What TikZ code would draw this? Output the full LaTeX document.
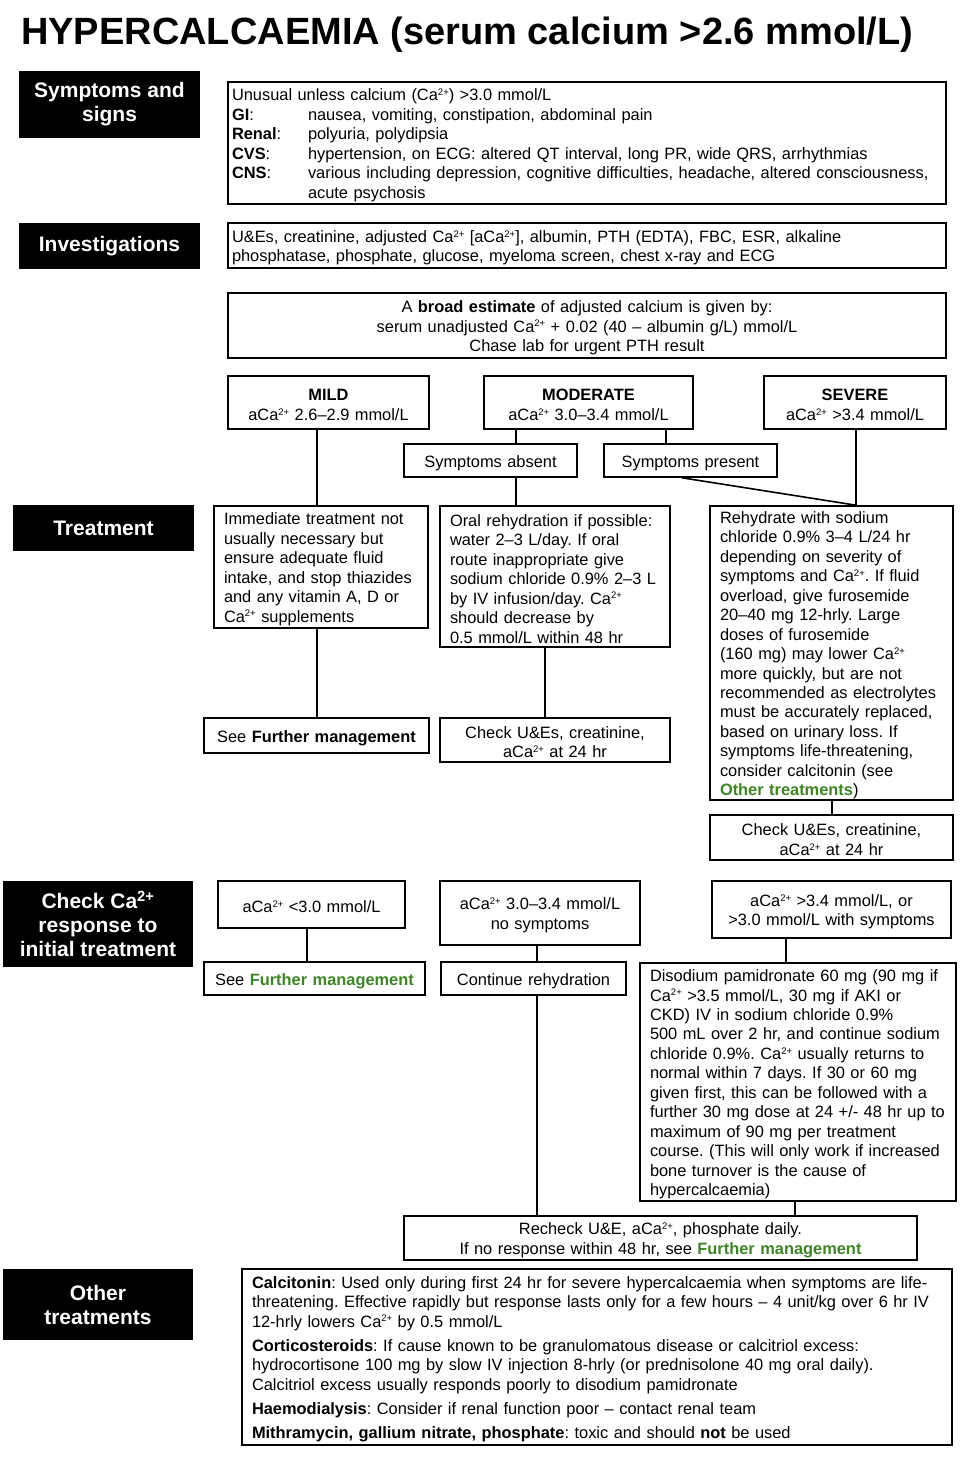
\documentclass[tikz,border=0pt]{standalone}
\usepackage{fontspec}
\setmainfont{Liberation Sans}
\frenchspacing
\definecolor{grn}{RGB}{61,133,37}
\newcommand{\ca}{Ca\raisebox{5.2pt}{\fontsize{9.5}{10}\selectfont 2+}}
\newcommand{\tb}[1]{\makebox[76pt][l]{#1}}
\newcommand{\bodyfont}{\fontsize{16.4}{19.45}\selectfont\frenchspacing}
\newcommand{\labfont}{\bfseries\fontsize{21}{24}\selectfont}
\newcommand{\gr}[1]{\textcolor{grn}{\textbf{#1}}}
\tikzset{
  box/.style={draw, line width=1.6pt, inner ysep=0pt, font=\bodyfont, execute at begin node={\rule{0pt}{16.5pt}}},
  pad/.style={inner xsep=10pt, align=left},
  ctr/.style={inner xsep=4pt, align=center},
  lab/.style={fill=black, text=white, font=\labfont, align=center, inner sep=0pt},
  ln/.style={line width=1.6pt}
}
\begin{document}
\begin{tikzpicture}[x=1pt,y=-1pt]
\useasboundingbox[fill=white] (0,0) rectangle (976,1470);
% title
\node[anchor=base west, inner sep=0pt, font=\bfseries\fontsize{38}{40}\selectfont] (title) at (21,44) {HYPERCALCAEMIA (serum calcium >2.6 mmol/L)};
% labels
\node[lab, minimum width=181pt, minimum height=67pt] (l1) at (109.5,104.5) {Symptoms and\\signs};
\node[lab, minimum width=181pt, minimum height=46pt] (l2) at (109.5,246) {Investigations};
\node[lab, minimum width=181pt, minimum height=46pt] (l3) at (103.5,528) {Treatment};
\node[lab, minimum width=190pt, minimum height=86pt] (l4) at (98,924) {Check Ca\textsuperscript{2+}\\response to\\initial treatment};
\node[lab, minimum width=190pt, minimum height=71pt] (l5) at (98,1304.5) {Other\\treatments};
% top boxes
\node[box, inner xsep=4pt, align=left, text width=710pt, minimum width=718pt, minimum height=122pt] (sym) at (587,143) {Unusual unless calcium (\ca) >3.0 mmol/L\\
\tb{\textbf{GI}:}nausea, vomiting, constipation, abdominal pain\\
\tb{\textbf{Renal}:}polyuria, polydipsia\\
\tb{\textbf{CVS}:}hypertension, on ECG: altered QT interval, long PR, wide QRS, arrhythmias\\
\tb{\textbf{CNS}:}various including depression, cognitive difficulties, headache, altered consciousness,\\
\tb{}acute psychosis};
\node[box, inner xsep=4pt, align=left, text width=710pt, minimum width=718pt, minimum height=45pt] (inv) at (587,245.5) {U\&Es, creatinine, adjusted \ca{} [a\ca], albumin, PTH (EDTA), FBC, ESR, alkaline\\phosphatase, phosphate, glucose, myeloma screen, chest x-ray and ECG};
\node[box, ctr, text width=710pt, minimum width=718pt, minimum height=65pt] (est) at (587,325.5) {A \textbf{broad estimate} of adjusted calcium is given by:\\serum unadjusted \ca{} + 0.02 (40 – albumin g/L) mmol/L\\Chase lab for urgent PTH result};
% severity
\node[box, ctr, text width=193pt, minimum width=201pt, minimum height=53pt] (mild) at (328.5,402.5) {\textbf{MILD}\\a\ca{} 2.6–2.9 mmol/L};
\node[box, ctr, text width=201pt, minimum width=209pt, minimum height=53pt] (mod) at (588.5,402.5) {\textbf{MODERATE}\\a\ca{} 3.0–3.4 mmol/L};
\node[box, ctr, text width=174pt, minimum width=182pt, minimum height=53pt] (sev) at (855,402.5) {\textbf{SEVERE}\\a\ca{} >3.4 mmol/L};
\node[box, ctr, text width=165pt, minimum width=173pt, minimum height=33pt] (sabs) at (490.5,460.5) {Symptoms absent};
\node[box, ctr, text width=165pt, minimum width=173pt, minimum height=33pt] (spres) at (690.5,460.5) {Symptoms present};
% treatment
\node[box, pad, text width=194pt, minimum width=214pt, minimum height=122pt] (tmild) at (321,567) {Immediate treatment not\\usually necessary but\\ensure adequate fluid\\intake, and stop thiazides\\and any vitamin A, D or\\\ca{} supplements};
\node[box, pad, text width=210pt, minimum width=230pt, minimum height=141pt] (tmod) at (555,576.5) {Oral rehydration if possible:\\water 2–3 L/day. If oral\\route inappropriate give\\sodium chloride 0.9\% 2–3 L\\by IV infusion/day. \ca\\should decrease by\\0.5 mmol/L within 48 hr};
\node[box, pad, text width=223pt, minimum width=243pt, minimum height=294pt] (tsev) at (831.5,653) {Rehydrate with sodium\\chloride 0.9\% 3–4 L/24 hr\\depending on severity of\\symptoms and \ca. If fluid\\overload, give furosemide\\20–40 mg 12-hrly. Large\\doses of furosemide\\(160 mg) may lower \ca\\more quickly, but are not\\recommended as electrolytes\\must be accurately replaced,\\based on urinary loss. If\\symptoms life-threatening,\\consider calcitonin (see\\\gr{Other treatments})};
\node[box, ctr, text width=217pt, minimum width=225pt, minimum height=35pt] (fm1) at (316.5,735.5) {See \textbf{Further management}};
\node[box, ctr, text width=222pt, minimum width=230pt, minimum height=44pt] (chk1) at (555,740) {Check U\&Es, creatinine,\\a\ca{} at 24 hr};
\node[box, ctr, text width=235pt, minimum width=243pt, minimum height=45pt] (chk2) at (831.5,837.5) {Check U\&Es, creatinine,\\a\ca{} at 24 hr};
% response
\node[box, ctr, text width=179pt, minimum width=187pt, minimum height=47pt] (r1) at (311.5,904.5) {a\ca{} <3.0 mmol/L};
\node[box, ctr, text width=192pt, minimum width=200pt, minimum height=64pt] (r2) at (540,913) {a\ca{} 3.0–3.4 mmol/L\\no symptoms};
\node[box, ctr, text width=231pt, minimum width=239pt, minimum height=57pt] (r3) at (831.5,909.5) {a\ca{} >3.4 mmol/L, or\\>3.0 mmol/L with symptoms};
\node[box, ctr, text width=213pt, minimum width=221pt, minimum height=33pt] (fm2) at (314.5,978.5) {See \gr{Further management}};
\node[box, ctr, text width=177pt, minimum width=185pt, minimum height=33pt] (cont) at (533.5,978.5) {Continue rehydration};
\node[box, pad, text width=296pt, minimum width=316pt, minimum height=238pt] (dis) at (798,1082) {Disodium pamidronate 60 mg (90 mg if\\\ca{} >3.5 mmol/L, 30 mg if AKI or\\CKD) IV in sodium chloride 0.9\%\\500 mL over 2 hr, and continue sodium\\chloride 0.9\%. \ca{} usually returns to\\normal within 7 days. If 30 or 60 mg\\given first, this can be followed with a\\further 30 mg dose at 24 +/- 48 hr up to\\maximum of 90 mg per treatment\\course. (This will only work if increased\\bone turnover is the cause of\\hypercalcaemia)};
\node[box, ctr, text width=505pt, minimum width=513pt, minimum height=44pt] (rec) at (660.5,1238) {Recheck U\&E, a\ca, phosphate daily.\\If no response within 48 hr, see \gr{Further management}};
\node[box, pad, text width=690pt, minimum width=710pt, minimum height=176pt] (oth) at (597,1357) {\textbf{Calcitonin}: Used only during first 24 hr for severe hypercalcaemia when symptoms are life-\\threatening. Effective rapidly but response lasts only for a few hours – 4 unit/kg over 6 hr IV\\12-hrly lowers \ca{} by 0.5 mmol/L\\[4.8pt]
\textbf{Corticosteroids}: If cause known to be granulomatous disease or calcitriol excess:\\hydrocortisone 100 mg by slow IV injection 8-hrly (or prednisolone 40 mg oral daily).\\Calcitriol excess usually responds poorly to disodium pamidronate\\[4.8pt]
\textbf{Haemodialysis}: Consider if renal function poor – contact renal team\\[4.8pt]
\textbf{Mithramycin, gallium nitrate, phosphate}: toxic and should \textbf{not} be used};
% connectors
\draw[ln] (mild.south -| 317,0) -- (tmild.north -| 317,0);
\draw[ln] (tmild.south -| 317,0) -- (fm1.north -| 317,0);
\draw[ln] (mod.south -| 516,0) -- (sabs.north -| 516,0);
\draw[ln] (mod.south -| 666,0) -- (spres.north -| 666,0);
\draw[ln] (sabs.south -| 516,0) -- (tmod.north -| 516,0);
\draw[ln] (tmod.south -| 545,0) -- (chk1.north -| 545,0);
\draw[ln] (sev.south -| 856,0) -- (tsev.north -| 856,0);
\draw[ln] (spres.south -| 682,0) -- (tsev.north -| 856,0);
\draw[ln] (tsev.south -| 832,0) -- (chk2.north -| 832,0);
\draw[ln] (r1.south -| 307,0) -- (fm2.north -| 307,0);
\draw[ln] (r2.south -| 537,0) -- (cont.north -| 537,0);
\draw[ln] (cont.south -| 537,0) -- (rec.north -| 537,0);
\draw[ln] (r3.south -| 786,0) -- (dis.north -| 786,0);
\draw[ln] (dis.south -| 795,0) -- (rec.north -| 795,0);
\end{tikzpicture}
\end{document}
